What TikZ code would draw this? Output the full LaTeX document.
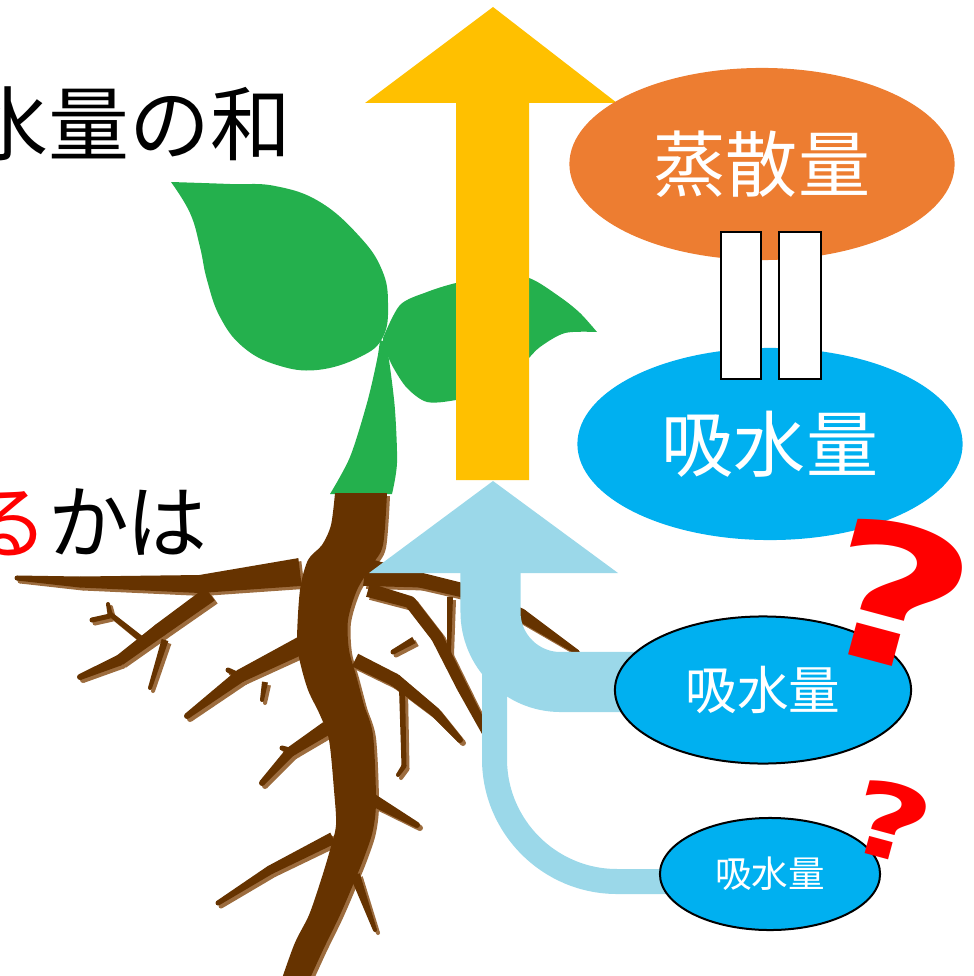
\documentclass[tikz,border=0pt]{standalone}
\usepackage{fontspec}
\newfontfamily\jpfont{Noto Sans CJK JP}
\newfontfamily\qfont{DejaVu Sans}
\usetikzlibrary{shapes.geometric, calc}
\definecolor{sunyellow}{HTML}{FFC000}
\definecolor{transorange}{HTML}{ED7D31}
\definecolor{waterblue}{HTML}{00B0F0}
\definecolor{flowblue}{HTML}{9BD8E9}
\definecolor{leafgreen}{HTML}{24B04D}
\definecolor{rootbrown}{HTML}{663300}
\definecolor{rootrim}{HTML}{9C6C3E}

% tapered piece of root from #1 (half width #3) to #2 (half width #4)
\newcommand\rootseg[4]{%
  \fill ($#1!#3*0.01cm!90:#2$) -- ($#1!#3*0.01cm!-90:#2$)
     -- ($#2!#4*0.01cm!90:#1$) -- ($#2!#4*0.01cm!-90:#1$) -- cycle;
  \fill #2 circle[radius=#4*0.01cm];}

% the whole root, filled in the current colour
\newcommand\rootsystem{%
  \fill plot[smooth] coordinates {(335,493) (331,525) (322,545) (308,560) (300,590)
     (297,640) (300,662) (308,690) (320,715) (329,740) (334,790) (336,825) (330,850)
     (321,880) (309,915) (294,945) (276,996)}
     -- plot[smooth] coordinates {(302,996) (323,950) (340,915) (355,880) (365,855)
     (373,830) (376,800) (373,735) (364,705) (356,675) (349,650) (348,620) (357,590)
     (372,565) (383,545) (387,493)} -- cycle;
  % left side
  \rootseg{(300,572)}{(200,584)}{14}{9}
  \rootseg{(200,584)}{(80,582)}{9}{5.5}
  \rootseg{(80,582)}{(17,578)}{5.5}{2.5}
  \rootseg{(210,594)}{(160,630)}{8}{7}
  \rootseg{(160,630)}{(120,660)}{7}{5.5}
  \rootseg{(120,660)}{(80,677)}{5.5}{3}
  \rootseg{(140,638)}{(110,614)}{3}{2.5}
  \rootseg{(110,616)}{(92,620)}{2.5}{2.5}
  \rootseg{(110,614)}{(108,604)}{2.5}{2}
  \rootseg{(165,640)}{(150,688)}{3.5}{2}
  \rootseg{(302,645)}{(240,676)}{9}{6.5}
  \rootseg{(240,676)}{(187,716)}{6.5}{3}
  \rootseg{(240,676)}{(228,670)}{3}{2.5}
  \rootseg{(265,682)}{(262,700)}{3}{2}
  \rootseg{(327,728)}{(290,752)}{7}{5}
  \rootseg{(290,752)}{(262,783)}{5}{3}
  \rootseg{(297,752)}{(282,748)}{2.5}{2.5}
  \rootseg{(333,838)}{(270,870)}{6}{4.5}
  \rootseg{(270,870)}{(218,903)}{4.5}{2.5}
  % right side
  \rootseg{(365,572)}{(420,580)}{14}{7.5}
  \rootseg{(420,580)}{(470,592)}{7.5}{7}
  \rootseg{(470,592)}{(521,615)}{7}{6.5}
  \rootseg{(521,615)}{(577,652)}{6.5}{2.5}
  \rootseg{(368,590)}{(410,602)}{7}{6}
  \rootseg{(410,602)}{(437,637)}{6}{6}
  \rootseg{(437,637)}{(462,687)}{6}{5.5}
  \rootseg{(462,687)}{(490,740)}{5.5}{4}
  \rootseg{(414,640)}{(393,652)}{3.5}{2.5}
  \rootseg{(450,597)}{(449,652)}{3}{2}
  \rootseg{(355,660)}{(395,680)}{7}{6.5}
  \rootseg{(395,680)}{(435,712)}{6.5}{5}
  \rootseg{(435,712)}{(460,740)}{5}{3}
  \rootseg{(402,688)}{(404,766)}{3}{2.5}
  \rootseg{(404,766)}{(398,775)}{2.5}{2}
  \rootseg{(373,800)}{(417,825)}{6}{3}
  \rootseg{(355,875)}{(375,930)}{5}{2}
}

\tikzset{
  headtext/.style={inner sep=0pt, font=\jpfont\fontsize{23pt}{26pt}\selectfont},
  bubble/.style={ellipse, inner sep=0pt, text=white},
  eqbar/.style={draw=black, fill=white, line width=0.015cm},
  qmark/.style={inner sep=0pt, text=red, rotate=-15, xscale=1.35, transform shape},
  flowband/.style={draw=flowblue}
}

\begin{document}
\begin{tikzpicture}[x=0.01cm, y=-0.01cm]
  \useasboundingbox (0,0) rectangle (974,976);
  \clip (0,0) rectangle (974,976);

  % texts on the left
  \node[headtext, anchor=base east] (sumtext) at (292,155) {水量の和};
  \node[headtext, anchor=base east] (whethertext) at (208,552) {\textcolor{red}{る}かは};

  % seedling
  \fill[leafgreen] plot[smooth, tension=0.7] coordinates {(171,182) (230,184) (275,186)
     (320,202) (360,237) (382,270) (388,303) (383,337) (360,357) (317,370) (277,365)
     (243,347) (220,317) (207,280) (200,247) (190,213) (171,182)} -- cycle;
  \fill[leafgreen] plot[smooth] coordinates {(383,338) (400,305) (427,292) (456,283)
     (495,276) (529,278) (560,297) (580,313) (597,332)}
     -- plot[smooth] coordinates {(597,332) (565,333) (540,347) (525,362) (495,390)
     (456,400) (427,402) (407,388) (393,367) (383,345)} -- cycle;
  \fill[leafgreen] plot[smooth] coordinates {(380,340) (377,360) (367,403) (350,457) (330,494)}
     -- plot[smooth] coordinates {(392,494) (397,463) (395,410) (390,367) (386,342)} -- cycle;

  % roots with their lighter rim
  \begin{scope}[shift={(3,3)}, fill=rootrim]
    \rootsystem
  \end{scope}
  \begin{scope}[fill=rootbrown]
    \rootsystem
  \end{scope}

  % water going up and out
  \fill[sunyellow] (456,480) -- (456,103) -- (365,103) -- (493,7) -- (617,103)
     -- (529,103) -- (529,480) -- cycle;

  % water coming in from the roots
  \coordinate (bandA) at (650,682);
  \coordinate (bandB) at (700,881.5);
  \draw[flowband, line width=0.25cm, rounded corners=1.225cm] (494.5,600) |- (bandB);
  \draw[flowband, line width=0.6cm, rounded corners=0.7cm] (490.5,572) |- (bandA);
  \fill[flowblue] (369,573) -- (493,481) -- (618,573) -- cycle;

  % amounts
  \node[bubble, fill=transorange, minimum width=3.85cm, minimum height=1.92cm,
        font=\jpfont\fontsize{20.5pt}{22pt}\selectfont] (transp) at (762,164) {蒸散量};
  \node[bubble, fill=waterblue, minimum width=3.85cm, minimum height=1.92cm,
        font=\jpfont\fontsize{20.5pt}{22pt}\selectfont] (absorb) at (770,444) {吸水量};
  \node[bubble, fill=waterblue, draw=black, line width=0.02cm, minimum width=2.96cm,
        minimum height=1.47cm, font=\jpfont\fontsize{14.7pt}{16pt}\selectfont] (absorbA) at (763,690) {吸水量};
  \node[bubble, fill=waterblue, draw=black, line width=0.02cm, minimum width=2.2cm,
        minimum height=1.12cm, font=\jpfont\fontsize{10.4pt}{12pt}\selectfont] (absorbB) at (770,874) {吸水量};

  % equals sign
  \draw[eqbar] (721,232) rectangle (761,379);
  \draw[eqbar] (779,232) rectangle (821,379);

  % question marks
  \node[qmark, font=\qfont\bfseries\fontsize{54pt}{54pt}\selectfont] (bigq) at (897,595) {?};
  \node[qmark, font=\qfont\bfseries\fontsize{29pt}{29pt}\selectfont] (smallq) at (891,821) {?};
\end{tikzpicture}
\end{document}
